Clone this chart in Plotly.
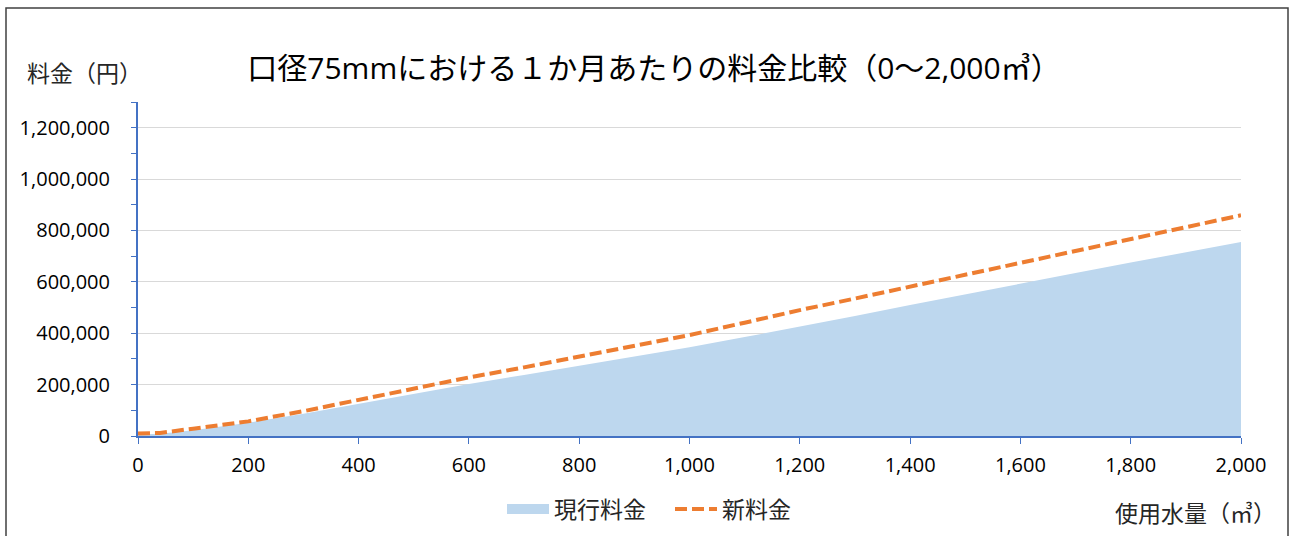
import plotly.graph_objects as go

# ---- data ----
usage_m3 = [0, 40, 100, 200, 300, 400, 500, 600, 700, 800, 900, 1000,
            1100, 1200, 1300, 1400, 1500, 1600, 1700, 1800, 1900, 2000]
current_fee = [6000, 9000, 22000, 51800, 86600, 125000, 164000, 202700, 237500, 273500,
               310000, 345000, 385000, 425000, 467000, 510000, 552000, 594000,
               634000, 675000, 715000, 755000]
new_fee = [10000, 12000, 28600, 57000, 96700, 140800, 183000, 228000, 267000, 309000,
           350000, 393000, 441000, 490000, 535000, 581000, 626000, 672000,
           718000, 765000, 812000, 859000]

title_text = "口径75mmにおける１か月あたりの料金比較（0～2,000㎥）"
y_title = "料金（円）"
x_title = "使用水量（㎥）"
series_names = ["現行料金", "新料金"]

FONT = "Open Sans, Noto Sans CJK JP, sans-serif"
AXIS_BLUE = "#4472C4"
AREA_BLUE = "#BDD7EE"
W, H = 1291, 536

fig = go.Figure()
fig.add_trace(go.Scatter(
    x=usage_m3, y=current_fee, name=series_names[0], mode="lines",
    fill="tozeroy", fillcolor=AREA_BLUE, line=dict(width=0, color=AREA_BLUE),
    showlegend=False, legendgroup="cur"))
# legend proxy for the area series (thick swatch like Excel)
fig.add_trace(go.Scatter(
    x=[None], y=[None], name=series_names[0], mode="lines",
    line=dict(width=14, color=AREA_BLUE), legendgroup="cur", hoverinfo="skip"))
fig.add_trace(go.Scatter(
    x=usage_m3, y=new_fee, name=series_names[1], mode="lines",
    line=dict(color="#ED7D31", width=4, dash="12px,5px")))

fig.update_layout(
    width=W, height=H,
    margin=dict(l=138, r=50, t=102, b=100, autoexpand=False),
    paper_bgcolor="white", plot_bgcolor="white",
    font=dict(family=FONT, size=20, color="#000000"),
    title=dict(text=title_text, x=654 / W, xref="container", xanchor="center",
               y=1 - 68 / H, yref="container", yanchor="middle",
               font=dict(family=FONT, size=30, color="#000000")),
    showlegend=True,
    legend=dict(orientation="h", xref="container", yref="container",
                x=502 / W, xanchor="left", y=1 - 509 / H, yanchor="middle",
                font=dict(family=FONT, size=23, color="#262626"),
                itemwidth=42, entrywidth=111, entrywidthmode="pixels",
                bgcolor="rgba(0,0,0,0)"),
)

fig.update_xaxes(
    range=[0, 2000], dtick=200, tickformat=",d",
    showline=True, linecolor=AXIS_BLUE, linewidth=2,
    ticks="outside", ticklen=6, tickcolor=AXIS_BLUE, tickwidth=1,
    showgrid=False, zeroline=False, ticklabelstandoff=4,
    tickfont=dict(family=FONT, size=20, color="#000000"),
)
fig.update_yaxes(
    range=[0, 1300000], dtick=200000, tickformat=",d",
    showline=True, linecolor=AXIS_BLUE, linewidth=2,
    ticks="outside", ticklen=5, tickcolor=AXIS_BLUE, tickwidth=1,
    minor=dict(dtick=100000, ticks="outside", ticklen=5, tickcolor=AXIS_BLUE, showgrid=False),
    showgrid=True, gridcolor="#D9D9D9", gridwidth=1,
    zeroline=False, ticklabelstandoff=17,
    tickfont=dict(family=FONT, size=20, color="#000000"),
)

fig.add_annotation(text=y_title, xref="paper", yref="paper",
                   x=(25 - 138) / 1103, y=(436 - 73) / 334, xanchor="left", yanchor="middle",
                   showarrow=False, font=dict(family=FONT, size=23, color="#262626"))
fig.add_annotation(text=x_title, xref="paper", yref="paper",
                   x=(1278 - 138) / 1103, y=(436 - 513) / 334, xanchor="right", yanchor="middle",
                   showarrow=False, font=dict(family=FONT, size=23, color="#262626"))

# outer chart border
fig.add_shape(type="rect", xref="paper", yref="paper",
              x0=(6 - 138) / 1103, x1=(1288 - 138) / 1103, y0=(436 - 545) / 334, y1=(436 - 8) / 334,
              line=dict(color="#404040", width=1.5), fillcolor="rgba(0,0,0,0)", layer="below")

fig.write_html("out.html")
